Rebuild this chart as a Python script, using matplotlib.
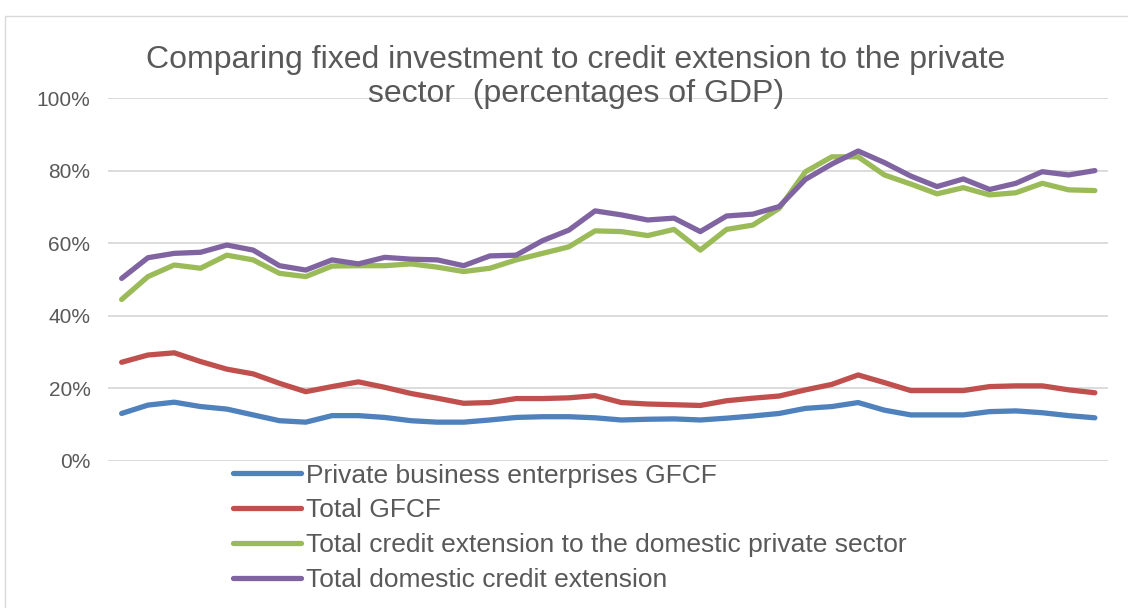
import matplotlib
matplotlib.use("Agg")
import matplotlib.pyplot as plt
from matplotlib.patches import Rectangle
from matplotlib.ticker import FuncFormatter
import numpy as np

# ---- data (percent of GDP), 38 unlabeled periods ----
periods = list(range(38))

private_gfcf = [13.1, 15.4, 16.2, 15.0, 14.3, 12.7, 11.1, 10.7, 12.5, 12.5,
                12.0, 11.1, 10.7, 10.7, 11.3, 12.0, 12.2, 12.2, 11.9, 11.3,
                11.5, 11.6, 11.3, 11.8, 12.4, 13.1, 14.5, 15.0, 16.1, 14.0,
                12.7, 12.7, 12.7, 13.6, 13.8, 13.3, 12.5, 11.9]

total_gfcf = [27.2, 29.2, 29.8, 27.4, 25.3, 24.0, 21.4, 19.1, 20.5, 21.8,
              20.3, 18.6, 17.3, 15.9, 16.1, 17.2, 17.2, 17.4, 18.0, 16.1,
              15.7, 15.5, 15.3, 16.6, 17.3, 17.9, 19.6, 21.1, 23.7, 21.6,
              19.4, 19.4, 19.4, 20.5, 20.7, 20.7, 19.6, 18.8]

credit_private = [44.5, 50.8, 54.0, 53.1, 56.7, 55.4, 51.7, 50.8, 53.7, 53.8,
                  53.8, 54.3, 53.4, 52.2, 53.1, 55.4, 57.2, 59.0, 63.4, 63.2,
                  62.1, 63.8, 58.1, 63.8, 65.0, 69.6, 79.7, 83.8, 83.8, 78.8,
                  76.3, 73.6, 75.3, 73.3, 73.9, 76.5, 74.7, 74.5]

credit_domestic = [50.3, 56.0, 57.2, 57.5, 59.5, 58.1, 53.8, 52.6, 55.4, 54.3,
                   56.1, 55.6, 55.4, 53.8, 56.5, 56.7, 60.7, 63.6, 68.9, 67.8,
                   66.4, 66.9, 63.2, 67.5, 68.0, 70.1, 77.6, 81.8, 85.4, 82.2,
                   78.5, 75.6, 77.7, 74.8, 76.5, 79.7, 78.8, 80.0]

series_names = ["Private business enterprises GFCF",
                "Total GFCF",
                "Total credit extension to the domestic private sector",
                "Total domestic credit extension"]
series_colors = ["#4F81BD", "#C0504D", "#9BBB59", "#8064A2"]
y_ticks = [0, 20, 40, 60, 80, 100]

title_text = "Comparing fixed investment to credit extension to the private\nsector  (percentages of GDP)"

# ---- figure ----
plt.rcParams['font.family'] = ['Liberation Sans', 'DejaVu Sans']
W, H = 1128, 608
fig = plt.figure(figsize=(W / 100, H / 100), dpi=100)

# chart border
fig.patches.append(Rectangle((5 / W, -0.1), 1.2, (H - 16) / H + 0.1,
                             transform=fig.transFigure, fill=False,
                             edgecolor="#D9D9D9", linewidth=1.0))

ax = fig.add_axes([108.5 / W, 1 - 461 / H, (1108 - 108.5) / W, (461 - 98) / H])

x = np.arange(len(periods))
data = [private_gfcf, total_gfcf, credit_private, credit_domestic]
for vals, name, col in zip(data, series_names, series_colors):
    ax.plot(x, vals, color=col, linewidth=3.8, label=name,
            solid_capstyle="round", solid_joinstyle="round")

ax.set_xlim(-0.5, len(periods) - 0.5)
ax.set_ylim(0, 100)
ax.set_yticks(y_ticks)
ax.yaxis.set_major_formatter(FuncFormatter(lambda v, p: f"{int(v)}%"))
ax.set_xticks([])
ax.grid(axis="y", color="#D9D9D9", linewidth=1.3)
ax.set_axisbelow(True)
for s in ax.spines.values():
    s.set_visible(False)
ax.tick_params(axis="y", length=0, pad=13, labelsize=15, labelcolor="#595959")

fig.text(576 / W, 1 - 77 / H, title_text, ha="center", va="center",
         fontsize=23, color="#595959", linespacing=1.2)

leg = fig.legend(loc="upper left", bbox_to_anchor=(222 / W, 1 - 453 / H),
                 frameon=False, fontsize=19, handlelength=2.6,
                 handletextpad=0.2, labelspacing=0.41, borderaxespad=0)
for t in leg.get_texts():
    t.set_color("#595959")
for l in leg.get_lines():
    l.set_linewidth(3.8)

fig.savefig("out.png", dpi=100, facecolor="white")
